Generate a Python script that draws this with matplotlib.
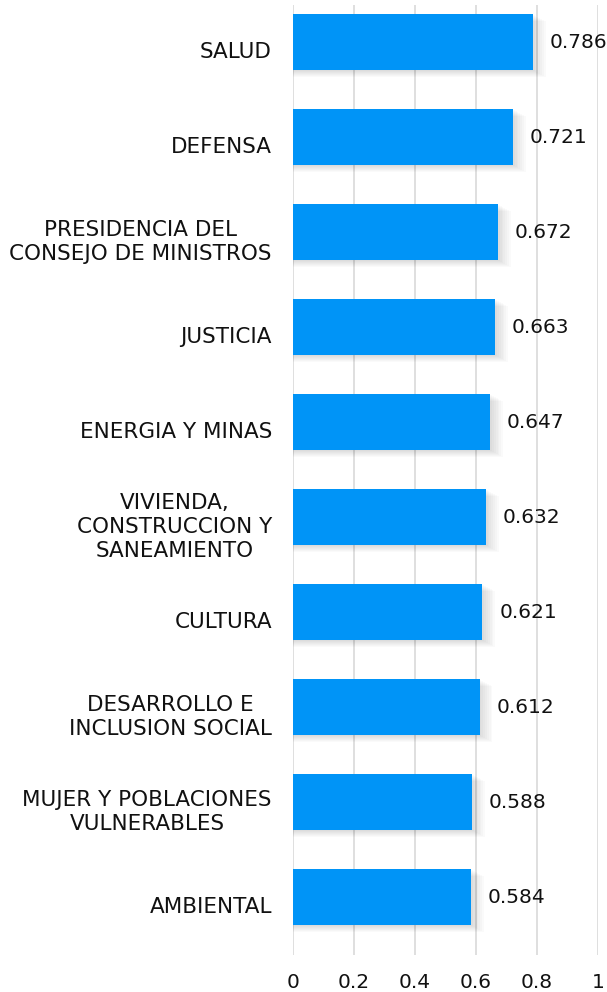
import matplotlib
matplotlib.use("Agg")
import matplotlib.pyplot as plt

categories = ["SALUD", "DEFENSA", "PRESIDENCIA DEL\nCONSEJO DE MINISTROS", "JUSTICIA",
              "ENERGIA Y MINAS", "VIVIENDA,\nCONSTRUCCION Y\nSANEAMIENTO", "CULTURA",
              "DESARROLLO E\nINCLUSION SOCIAL", "MUJER Y POBLACIONES\nVULNERABLES", "AMBIENTAL"]
values = [0.786, 0.721, 0.672, 0.663, 0.647, 0.632, 0.621, 0.612, 0.588, 0.584]
xticks = [0, 0.2, 0.4, 0.6, 0.8, 1]
xticklabels = ["0", "0.2", "0.4", "0.6", "0.8", "1"]

plt.rcParams['font.family'] = ['DejaVu Sans']

fig = plt.figure(figsize=(6.07, 9.92), dpi=100)
ax = fig.add_axes([293/607, 1-955/992, 305/607, 950/992])

pos = list(range(len(categories)))
h = 0.59
# soft shadow
for k in range(1, 8):
    ax.barh([p + 0.01*k for p in pos], [v + 0.006*k for v in values], height=h,
            left=0, color='black', alpha=0.02, zorder=1, linewidth=0)
ax.barh(pos, values, height=h, color='#0094F7', zorder=3, linewidth=0)

for p, v in zip(pos, values):
    ax.text(v + 0.055, p, f"{v:.3f}", va='center', ha='left', fontsize=14.5, color='#111111')

ytrans = ax.get_yaxis_transform()
for p, c in zip(pos, categories):
    ax.text(-0.069, p + 0.1, c, transform=ytrans, ha='right', va='center',
            multialignment='center', fontsize=15.5, color='#111111', linespacing=1.25)

ax.set_xlim(0, 1)
ax.set_ylim(9.61, -0.39)
ax.set_xticks(xticks)
ax.set_xticklabels(xticklabels, fontsize=14.5, color='#111111')
ax.set_yticks([])
ax.tick_params(axis='x', length=0, pad=13)
ax.grid(axis='x', color='#d9d9d9', linewidth=1.2, zorder=0)
ax.set_axisbelow(True)
for s in ax.spines.values():
    s.set_visible(False)

fig.savefig("out.png", dpi=100)
